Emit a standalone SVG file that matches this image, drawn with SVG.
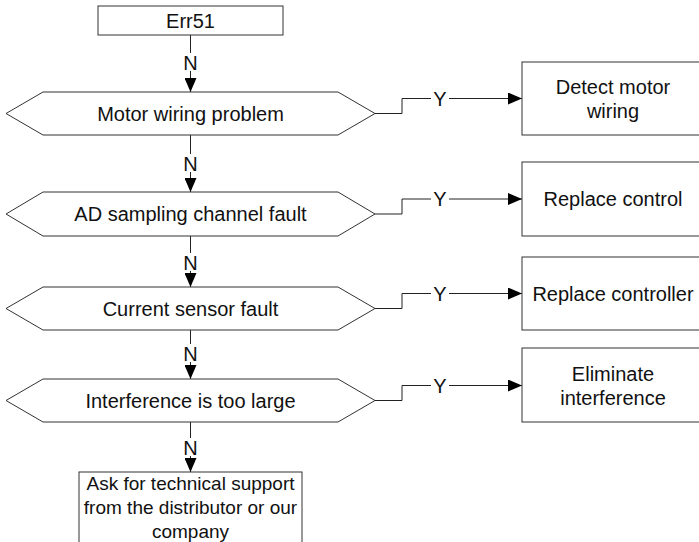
<svg xmlns="http://www.w3.org/2000/svg" width="699" height="542" viewBox="0 0 699 542">
<style>
.shape{fill:#fff;stroke:#333;stroke-width:1}
.line{fill:none;stroke:#222;stroke-width:1}
text{font-family:"Liberation Sans",Arial,sans-serif;font-size:20px;fill:#111;text-anchor:middle}
.small{font-size:19px}
.lbl{fill:#fff}
</style>
<defs>
<marker id="arr" markerWidth="14" markerHeight="12" refX="14" refY="6" orient="auto" markerUnits="userSpaceOnUse">
<path d="M0,0 L14,6 L0,12 Z" fill="#000"/>
</marker>
</defs>
<rect width="699" height="542" fill="#fff"/>
<g id="connectors">
<path class="line" d="M190.5,35 V92" marker-end="url(#arr)"/>
<path class="line" d="M190.5,135 V192" marker-end="url(#arr)"/>
<path class="line" d="M190.5,236 V287" marker-end="url(#arr)"/>
<path class="line" d="M190.5,330 V379" marker-end="url(#arr)"/>
<path class="line" d="M190.5,422 V472" marker-end="url(#arr)"/>
<path class="line" d="M375,113.5 H402 V98.5 H522" marker-end="url(#arr)"/>
<path class="line" d="M375,214 H402 V199 H522" marker-end="url(#arr)"/>
<path class="line" d="M375,308.5 H402 V293.5 H522" marker-end="url(#arr)"/>
<path class="line" d="M375,400.5 H402 V385.5 H522" marker-end="url(#arr)"/>
<g id="labels">
<rect class="lbl" x="183" y="53" width="15" height="18"/><text x="190.5" y="70">N</text>
<rect class="lbl" x="183" y="154" width="15" height="18"/><text x="190.5" y="171">N</text>
<rect class="lbl" x="183" y="253" width="15" height="18"/><text x="190.5" y="270">N</text>
<rect class="lbl" x="183" y="344" width="15" height="18"/><text x="190.5" y="361">N</text>
<rect class="lbl" x="183" y="438" width="15" height="18"/><text x="190.5" y="455">N</text>
<rect class="lbl" x="431" y="90" width="18" height="16"/><text x="440" y="105.5">Y</text>
<rect class="lbl" x="431" y="191" width="18" height="16"/><text x="440" y="206">Y</text>
<rect class="lbl" x="431" y="285" width="18" height="16"/><text x="440" y="300.5">Y</text>
<rect class="lbl" x="431" y="377" width="18" height="16"/><text x="440" y="392.5">Y</text>
</g>
</g>
<g id="start">
<rect class="shape" x="98" y="6" width="185" height="29"/>
<text x="190.5" y="28">Err51</text>
</g>
<g id="d1">
<polygon class="shape" points="6,113.5 43,92 338,92 375,113.5 338,135 43,135"/>
<text x="190.5" y="120.5">Motor wiring problem</text>
</g>
<g id="d2">
<polygon class="shape" points="6,214 43,192 338,192 375,214 338,236 43,236"/>
<text x="190.5" y="221">AD sampling channel fault</text>
</g>
<g id="d3">
<polygon class="shape" points="6,308.5 43,287 338,287 375,308.5 338,330 43,330"/>
<text x="190.5" y="315.5">Current sensor fault</text>
</g>
<g id="d4">
<polygon class="shape" points="6,400.5 43,379 338,379 375,400.5 338,422 43,422"/>
<text x="190.5" y="407.5">Interference is too large</text>
</g>
<g id="r1">
<rect class="shape" x="522" y="62" width="182" height="73"/>
<text x="613" y="93.5">Detect motor</text>
<text x="613" y="117.5">wiring</text>
</g>
<g id="r2">
<rect class="shape" x="522" y="162" width="182" height="74"/>
<text x="613" y="206">Replace control</text>
</g>
<g id="r3">
<rect class="shape" x="522" y="257" width="182" height="73"/>
<text x="613" y="300.5">Replace controller</text>
</g>
<g id="r4">
<rect class="shape" x="522" y="348" width="182" height="74"/>
<text x="613" y="380.5">Eliminate</text>
<text x="613" y="404.5">interference</text>
</g>
<g id="end">
<rect class="shape" x="79" y="472" width="223" height="90"/>
<text class="small" x="190.5" y="490">Ask for technical support</text>
<text class="small" x="190.5" y="514">from the distributor or our</text>
<text class="small" x="190.5" y="538">company</text>
</g>
</svg>
